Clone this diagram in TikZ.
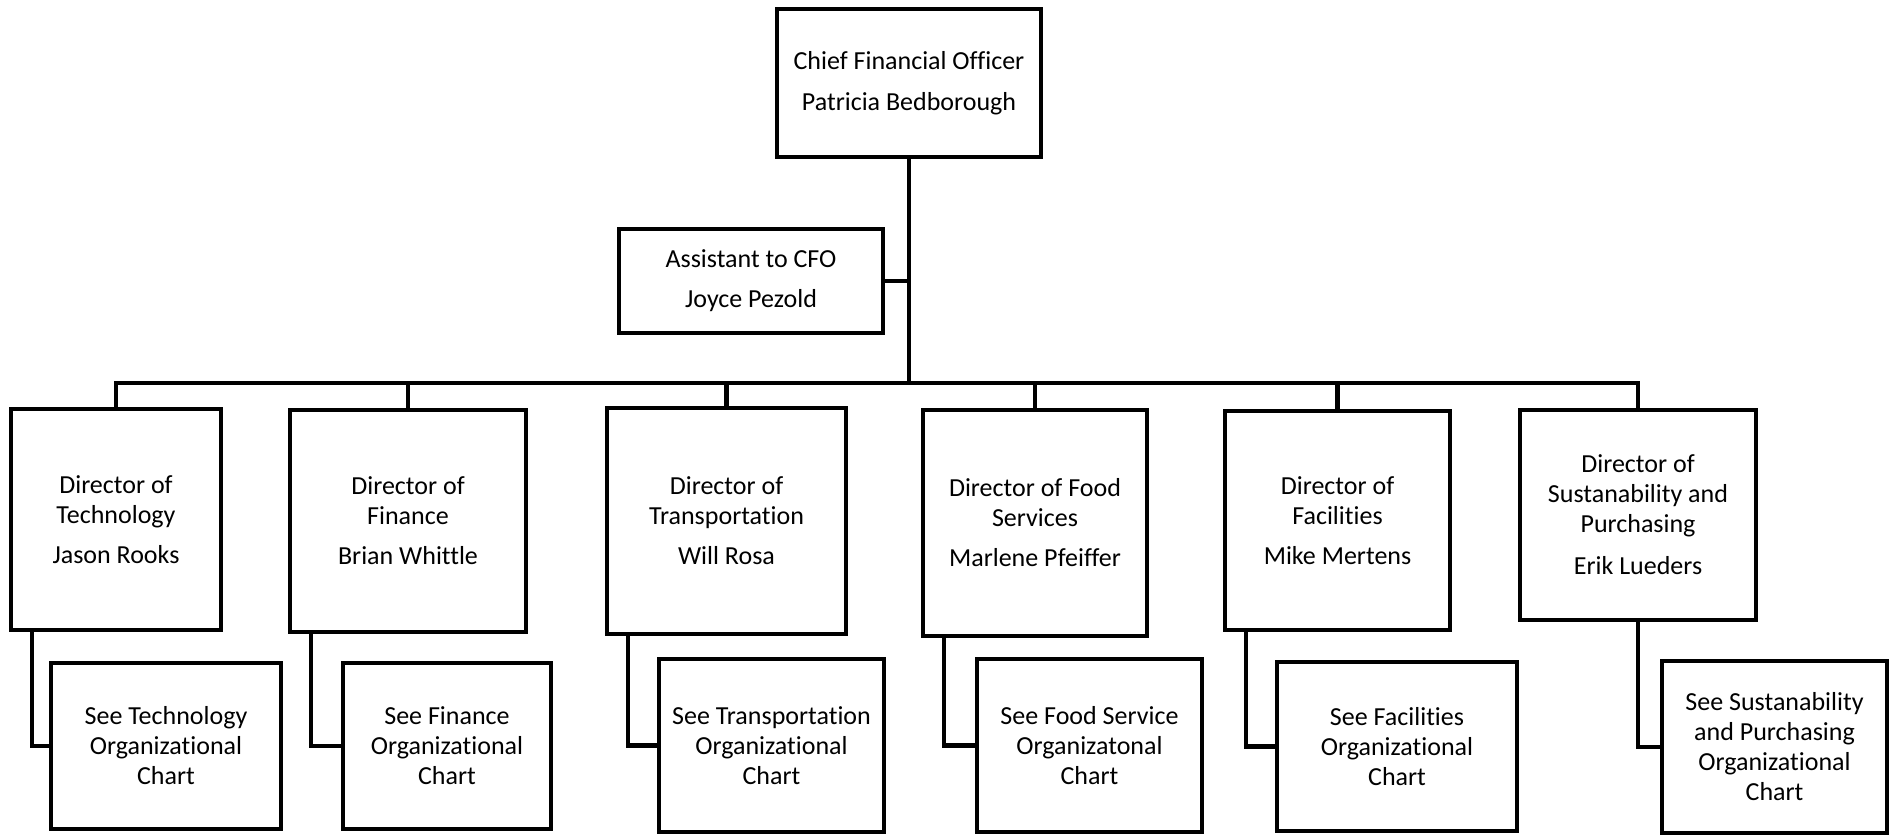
\documentclass[tikz,border=0pt]{standalone}
\usepackage{fontspec}
\setmainfont{Carlito}[RawFeature=-liga]
\tikzset{
  box/.style={draw, line width=4.5pt, align=center, inner sep=0pt, font=\fontsize{26}{30}\selectfont},
  link/.style={line width=4.5pt}
}
\begin{document}
\begin{tikzpicture}[x=1pt, y=-1pt]
  \useasboundingbox (0,0) rectangle (1902,838);

  % cfo and assistant
  \node[box, minimum width=264pt, minimum height=148pt] (cfo) at (909,83) {Chief Financial Officer\\[11pt]Patricia Bedborough};
  \node[box, minimum width=264pt, minimum height=104pt] (asst) at (751,281) {Assistant to CFO\\[10pt]Joyce Pezold};

  % directors
  \node[box, minimum width=210pt, minimum height=221pt] (tech) at (116,519.5) {Director of\\Technology\\[10pt]Jason Rooks};
  \node[box, minimum width=236pt, minimum height=222pt] (fin) at (408,521) {Director of\\Finance\\[10pt]Brian Whittle};
  \node[box, minimum width=239pt, minimum height=226pt] (trans) at (726.5,521) {Director of\\Transportation\\[10pt]Will Rosa};
  \node[box, minimum width=224pt, minimum height=226pt] (food) at (1035,523) {Director of Food\\Services\\[10pt]Marlene Pfeiffer};
  \node[box, minimum width=225pt, minimum height=219pt] (fac) at (1337.5,520.5) {Director of\\Facilities\\[10pt]Mike Mertens};
  \node[box, minimum width=236pt, minimum height=210pt] (sust) at (1638,515) {Director of\\Sustanability and\\Purchasing\\[12pt]Erik Lueders};

  % organizational charts
  \node[box, minimum width=230pt, minimum height=166pt] (tech-sub) at (166,746) {See Technology\\Organizational\\Chart};
  \node[box, minimum width=208pt, minimum height=166pt] (fin-sub) at (447,746) {See Finance\\Organizational\\Chart};
  \node[box, minimum width=225pt, minimum height=173pt] (trans-sub) at (771.5,745.5) {See Transportation\\Organizational\\Chart};
  \node[box, minimum width=225pt, minimum height=173pt] (food-sub) at (1089.5,745.5) {See Food Service\\Organizatonal\\Chart};
  \node[box, minimum width=240pt, minimum height=169pt] (fac-sub) at (1397,746.5) {See Facilities\\Organizational\\Chart};
  \node[box, minimum width=225pt, minimum height=172pt] (sust-sub) at (1774.5,747) {See Sustanability\\and Purchasing\\Organizational\\Chart};

  % trunk and bus
  \coordinate (bus) at (909,383);
  \draw[link] (cfo.south) -- (bus);
  \draw[link] (asst.east) -- (asst.east -| cfo.south);
  \draw[link] (tech.north) -- (tech.north |- bus) -- (sust.north |- bus) -- (sust.north);
  \foreach \n in {fin,trans,food,fac}
    \draw[link] (\n.north) -- (\n.north |- bus);

  % links to charts
  \foreach \n in {tech,fin,trans,food,fac}
    \draw[link] ([xshift=23pt]\n.south west) |- (\n-sub.west);
  \draw[link] (sust.south) |- (sust-sub.west);

\end{tikzpicture}
\end{document}
